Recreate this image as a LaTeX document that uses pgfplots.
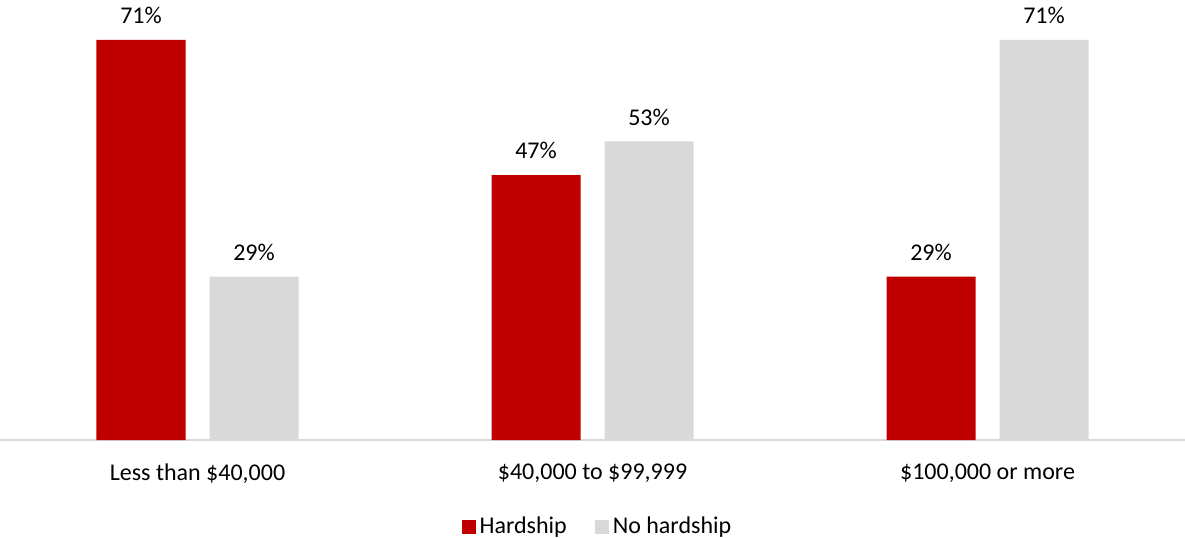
\documentclass[border=0pt]{standalone}
\usepackage{pgfplots}
\pgfplotsset{compat=1.18}
\usepackage{fontspec}
\setmainfont{Carlito}
\definecolor{hred}{HTML}{C00000}
\definecolor{hgray}{HTML}{D9D9D9}
\begin{document}
\begin{tikzpicture}
\useasboundingbox (0,-48.5pt) rectangle (592.5pt,220pt);
\begin{axis}[
  at={(0,0)}, anchor=south west,
  scale only axis,
  width=592.5pt, height=220pt,
  ybar=12pt, bar width=44.5pt,
  xmin=-0.5, xmax=2.5,
  ymin=0, ymax=78.1,
  xtick=data,
  xticklabels={{Less than \$40,000}, {\$40,000 to \$99,999}, {\$100,000 or more}},
  xticklabel style={yshift=-8.5pt, font=\fontsize{12}{14}\selectfont, text=black},
  major tick length=0pt,
  ytick=\empty,
  axis y line=none,
  axis x line*=bottom,
  x axis line style={draw=hgray, line width=0.75pt, -},
  /pgf/number format/assume math mode=true,
  nodes near coords={\pgfmathprintnumber{\pgfplotspointmeta}\%},
  nodes near coords style={font=\fontsize{12}{14}\selectfont, text=black, yshift=4.5pt},
  legend style={at={(0.505,-43.5pt)}, anchor=center, draw=none, fill=none,
    legend columns=2, font=\fontsize{12}{14}\selectfont,
    /tikz/every even column/.append style={column sep=12pt}},
  legend image code/.code={\draw[#1, draw=none] (0pt,-3.6pt) rectangle (7pt,3.4pt);},
]
\addplot[fill=hred, draw=none] coordinates {(0,71) (1,47) (2,29)};
\addplot[fill=hgray, draw=none] coordinates {(0,29) (1,53) (2,71)};
\legend{Hardship, No hardship}
\end{axis}
\end{tikzpicture}
\end{document}
